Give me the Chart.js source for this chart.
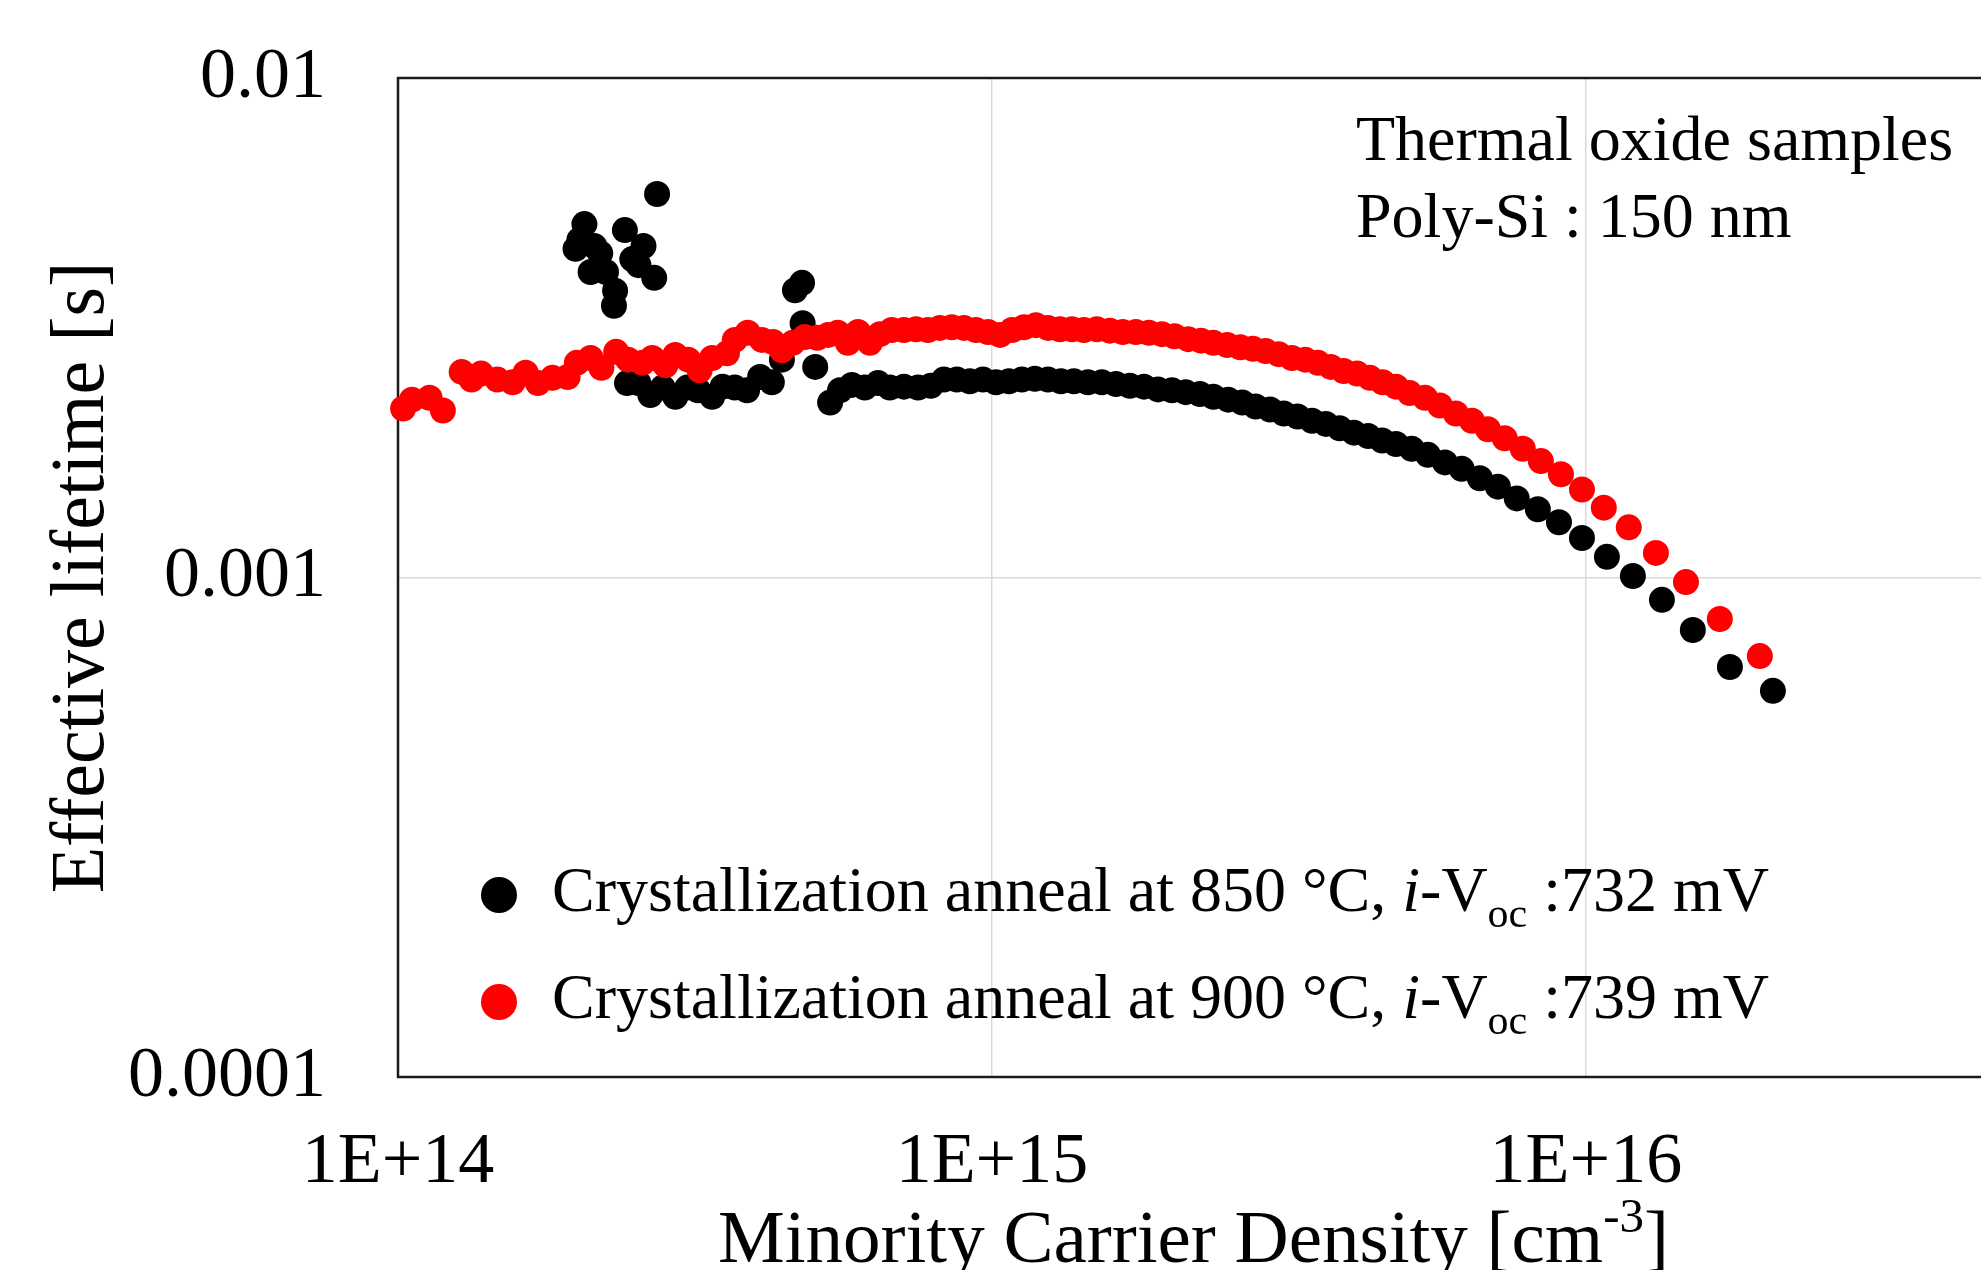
<!DOCTYPE html>
<html>
<head>
<meta charset="utf-8">
<title>Effective lifetime</title>
<script src="https://cdn.jsdelivr.net/npm/chart.js@4.4.1/dist/chart.umd.min.js"></script>
<style>
  html, body { margin: 0; padding: 0; background: #fff; overflow: hidden; }
  canvas { display: block; }
</style>
</head>
<body>
<canvas id="lifetimeChart" width="2040" height="1270"></canvas>
<script>
// Datos: densidad de portadores [cm-3] y tiempo de vida [s]
const n850 = [
  1.99e14, 2.02e14, 2.06e14, 2.14e14, 2.19e14, 2.11e14, 2.24e14, 2.32e14, 2.31e14, 2.41e14,
  2.48e14, 2.54e14, 2.59e14, 2.70e14, 2.73e14,
  2.43e14, 2.54e14, 2.66e14, 2.79e14, 2.93e14, 3.07e14, 3.20e14, 3.38e14, 3.52e14, 3.69e14,
  3.87e14, 4.07e14, 4.26e14, 4.43e14, 4.66e14, 4.79e14, 4.80e14, 5.04e14, 5.34e14, 5.55e14,
  5.81e14, 6.11e14, 6.43e14, 6.73e14, 7.11e14, 7.51e14, 7.89e14, 8.30e14, 8.73e14, 9.18e14,
  9.66e14, 1.016e15, 1.068e15, 1.123e15, 1.181e15, 1.243e15, 1.307e15, 1.374e15, 1.451e15, 1.532e15,
  1.618e15, 1.707e15, 1.803e15, 1.904e15, 2.01e15, 2.12e15, 2.24e15, 2.36e15, 2.50e15, 2.64e15,
  2.78e15, 2.94e15, 3.10e15, 3.27e15, 3.46e15, 3.65e15, 3.85e15, 4.07e15, 4.30e15, 4.54e15,
  4.79e15, 5.09e15, 5.42e15, 5.79e15, 6.18e15, 6.63e15, 7.11e15, 7.65e15, 8.30e15, 9.01e15,
  9.85e15, 1.085e16, 1.20e16, 1.343e16, 1.514e16, 1.748e16, 2.065e16
];
const tau850 = [
  4.55e-3, 4.74e-3, 5.10e-3, 4.61e-3, 4.46e-3, 4.09e-3, 4.09e-3, 3.75e-3, 3.50e-3, 4.96e-3,
  4.34e-3, 4.22e-3, 4.61e-3, 3.98e-3, 5.86e-3,
  2.45e-3, 2.45e-3, 2.32e-3, 2.40e-3, 2.30e-3, 2.40e-3, 2.37e-3, 2.30e-3, 2.41e-3, 2.40e-3,
  2.37e-3, 2.52e-3, 2.46e-3, 2.73e-3, 3.76e-3, 3.89e-3, 3.23e-3, 2.64e-3, 2.24e-3, 2.37e-3,
  2.43e-3, 2.40e-3, 2.45e-3, 2.40e-3, 2.41e-3, 2.40e-3, 2.42e-3, 2.49e-3, 2.49e-3, 2.47e-3,
  2.49e-3, 2.46e-3, 2.47e-3, 2.49e-3, 2.50e-3, 2.49e-3, 2.47e-3, 2.47e-3, 2.46e-3, 2.46e-3,
  2.44e-3, 2.42e-3, 2.41e-3, 2.38e-3, 2.37e-3, 2.35e-3, 2.33e-3, 2.30e-3, 2.27e-3, 2.24e-3,
  2.20e-3, 2.17e-3, 2.13e-3, 2.10e-3, 2.06e-3, 2.03e-3, 1.99e-3, 1.95e-3, 1.92e-3, 1.88e-3,
  1.85e-3, 1.81e-3, 1.76e-3, 1.70e-3, 1.65e-3, 1.58e-3, 1.52e-3, 1.44e-3, 1.37e-3, 1.29e-3,
  1.20e-3, 1.10e-3, 1.007e-3, 9.02e-4, 7.85e-4, 6.62e-4, 5.93e-4
];
const n900 = [
  1.02e14, 1.056e14, 1.13e14, 1.19e14, 1.28e14, 1.33e14, 1.38e14, 1.47e14, 1.56e14, 1.64e14,
  1.72e14, 1.82e14, 1.93e14, 2.00e14, 2.11e14, 2.20e14, 2.33e14, 2.44e14, 2.58e14, 2.68e14,
  2.82e14, 2.93e14, 3.08e14, 3.22e14, 3.38e14, 3.58e14, 3.69e14, 3.88e14, 4.10e14, 4.28e14,
  4.43e14, 4.62e14, 4.84e14, 5.08e14, 5.30e14, 5.50e14, 5.72e14, 5.95e14, 6.23e14, 6.48e14,
  6.78e14, 7.11e14, 7.45e14, 7.80e14, 8.17e14, 8.56e14, 8.97e14, 9.40e14, 9.85e14, 1.032e15,
  1.081e15, 1.132e15, 1.186e15, 1.243e15, 1.302e15, 1.364e15, 1.428e15, 1.502e15, 1.580e15, 1.661e15,
  1.747e15, 1.838e15, 1.933e15, 2.03e15, 2.14e15, 2.25e15, 2.36e15, 2.49e15, 2.62e15, 2.75e15,
  2.89e15, 3.04e15, 3.20e15, 3.37e15, 3.54e15, 3.72e15, 3.91e15, 4.12e15, 4.33e15, 4.55e15,
  4.79e15, 5.05e15, 5.36e15, 5.68e15, 6.04e15, 6.43e15, 6.84e15, 7.30e15, 7.83e15, 8.40e15,
  9.08e15, 9.85e15, 1.072e16, 1.181e16, 1.312e16, 1.474e16, 1.681e16, 1.963e16
];
const tau900 = [
  2.18e-3, 2.27e-3, 2.29e-3, 2.16e-3, 2.58e-3, 2.49e-3, 2.56e-3, 2.49e-3, 2.46e-3, 2.57e-3,
  2.45e-3, 2.51e-3, 2.52e-3, 2.69e-3, 2.75e-3, 2.63e-3, 2.83e-3, 2.73e-3, 2.69e-3, 2.75e-3,
  2.66e-3, 2.79e-3, 2.73e-3, 2.60e-3, 2.75e-3, 2.81e-3, 2.99e-3, 3.09e-3, 2.99e-3, 2.96e-3,
  2.85e-3, 2.95e-3, 3.03e-3, 3.02e-3, 3.06e-3, 3.09e-3, 2.95e-3, 3.10e-3, 2.95e-3, 3.07e-3,
  3.13e-3, 3.13e-3, 3.14e-3, 3.13e-3, 3.16e-3, 3.17e-3, 3.16e-3, 3.13e-3, 3.10e-3, 3.06e-3,
  3.13e-3, 3.17e-3, 3.20e-3, 3.16e-3, 3.14e-3, 3.14e-3, 3.13e-3, 3.14e-3, 3.12e-3, 3.10e-3,
  3.10e-3, 3.09e-3, 3.07e-3, 3.04e-3, 3.00e-3, 2.98e-3, 2.95e-3, 2.92e-3, 2.89e-3, 2.87e-3,
  2.84e-3, 2.80e-3, 2.75e-3, 2.73e-3, 2.69e-3, 2.64e-3, 2.59e-3, 2.56e-3, 2.51e-3, 2.46e-3,
  2.41e-3, 2.34e-3, 2.29e-3, 2.21e-3, 2.13e-3, 2.06e-3, 1.98e-3, 1.90e-3, 1.81e-3, 1.71e-3,
  1.61e-3, 1.50e-3, 1.38e-3, 1.26e-3, 1.12e-3, 9.79e-4, 8.26e-4, 6.96e-4
];

// Ejes
const xTickVals = [1e14, 1e15, 1e16];
const xTickLabels = ['1E+14', '1E+15', '1E+16'];
const yTickVals = [1e-4, 1e-3, 1e-2];
const yTickLabels = ['0.0001', '0.001', '0.01'];

// Textos
const seriesTemps = ['850', '900'];
const seriesVoc = ['732', '739'];
const notaLineas = ['Thermal oxide samples', 'Poly-Si : 150 nm'];
const xTitulo = 'Minority Carrier Density [cm';
const yTitulo = 'Effective lifetime [s]';

const FUENTE = "'Liberation Serif', 'Times New Roman', serif";
const colores = ['#000000', '#ff0000'];

// Escribe partes de texto seguidas (cursiva, subindice, superindice)
function textoRico(ctx, partes, x, y, medir) {
  let ancho = 0;
  partes.forEach(p => {
    let size = p.size || 64;
    let dy = 0;
    if (p.sub) { size = Math.round(size * 0.65); dy = 16; }
    if (p.sup) { size = Math.round(size * 0.65); dy = -30; }
    ctx.font = (p.italic ? 'italic ' : '') + size + 'px ' + FUENTE;
    if (!medir) ctx.fillText(p.t, x + ancho, y + dy);
    ancho += ctx.measureText(p.t).width;
  });
  return ancho;
}

const textosPlugin = {
  id: 'textos',
  beforeDatasetsDraw(chart) {
    // marco del area del grafico
    const { ctx, chartArea: a } = chart;
    ctx.save();
    ctx.strokeStyle = '#1a1a1a';
    ctx.lineWidth = 2.5;
    ctx.strokeRect(a.left, a.top, a.right - a.left, a.bottom - a.top);
    ctx.restore();
  },
  afterDraw(chart) {
    const { ctx, chartArea: a } = chart;
    ctx.save();
    ctx.fillStyle = '#000';
    ctx.textAlign = 'left';
    ctx.textBaseline = 'alphabetic';

    // nota arriba a la derecha
    ctx.font = '64px ' + FUENTE;
    ctx.fillText(notaLineas[0], 1356, 160);
    ctx.fillText(notaLineas[1], 1356, 237);

    // leyenda
    const filas = [911, 1018];
    seriesTemps.forEach((t, i) => {
      ctx.beginPath();
      ctx.arc(499, filas[i] - 16, 18, 0, Math.PI * 2);
      ctx.fillStyle = colores[i];
      ctx.fill();
      ctx.fillStyle = '#000';
      textoRico(ctx, [
        { t: 'Crystallization anneal at ' + t + ' \u00B0C, ' },
        { t: 'i', italic: true },
        { t: '-V' },
        { t: 'oc', sub: true },
        { t: ' :' + seriesVoc[i] + ' mV' }
      ], 552, filas[i]);
    });

    // titulo del eje x con superindice
    const partesX = [
      { t: xTitulo, size: 75 },
      { t: '-3', size: 75, sup: true },
      { t: ']', size: 75 }
    ];
    const w = textoRico(ctx, partesX, 0, 0, true);
    const cx = (a.left + a.right) / 2 - 6;
    textoRico(ctx, partesX, cx - w / 2, 1262);
    ctx.restore();
  }
};

const ctx = document.getElementById('lifetimeChart').getContext('2d');
new Chart(ctx, {
  type: 'scatter',
  data: {
    datasets: [
      {
        label: '850',
        data: n850.map((n, i) => ({ x: n, y: tau850[i] })),
        backgroundColor: colores[0],
        borderWidth: 0,
        pointRadius: 13,
        clip: false,
        order: 1
      },
      {
        label: '900',
        data: n900.map((n, i) => ({ x: n, y: tau900[i] })),
        backgroundColor: colores[1],
        borderWidth: 0,
        pointRadius: 13,
        clip: false,
        order: 0
      }
    ]
  },
  options: {
    responsive: false,
    animation: false,
    devicePixelRatio: 1,
    layout: { padding: { left: 37, top: 78, right: 39, bottom: 0 } },
    plugins: {
      legend: { display: false },
      tooltip: { enabled: false }
    },
    scales: {
      x: {
        type: 'logarithmic',
        min: 1e14,
        max: 5e16,
        afterBuildTicks: s => { s.ticks = xTickVals.map(v => ({ value: v })); },
        afterFit: s => { s.height = 193; },
        ticks: {
          padding: 43,
          color: '#000',
          font: { family: FUENTE, size: 72 },
          callback: (v) => xTickLabels[xTickVals.indexOf(v)] || ''
        },
        grid: { color: '#d9d9d9', lineWidth: 1.5, drawTicks: false },
        border: { display: false }
      },
      y: {
        type: 'logarithmic',
        min: 1e-4,
        max: 1e-2,
        afterBuildTicks: s => { s.ticks = yTickVals.map(v => ({ value: v })); },
        // ancho fijo y sin relleno extra arriba/abajo
        afterFit: s => { s.width = 361; s.paddingTop = 0; s.paddingBottom = 0; },
        ticks: {
          padding: 72,
          color: '#000',
          font: { family: FUENTE, size: 72 },
          callback: (v) => yTickLabels[yTickVals.indexOf(v)] || ''
        },
        grid: { color: '#d9d9d9', lineWidth: 1.5, drawTicks: false },
        border: { display: false },
        title: {
          display: true,
          text: yTitulo,
          color: '#000',
          font: { family: FUENTE, size: 76 },
          padding: { top: 0, bottom: 0 }
        }
      }
    }
  },
  plugins: [textosPlugin]
});
</script>
</body>
</html>
